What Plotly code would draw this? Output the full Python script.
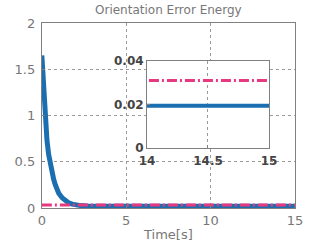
import plotly.graph_objects as go

# Data
t_blue = [0, 0.03, 0.06, 0.1, 0.15, 0.2, 0.3, 0.4, 0.5, 0.6, 0.7, 0.8, 1.0, 1.2, 1.4, 1.6, 1.8, 2.0, 2.3, 2.7, 3.0, 6.0, 10.0, 15.0]
v_blue = [1.65, 1.55, 1.40, 1.22, 1.06, 0.94, 0.74, 0.58, 0.47, 0.38, 0.31, 0.25, 0.16, 0.11, 0.075, 0.055, 0.042, 0.033, 0.026, 0.021, 0.0195, 0.0195, 0.0195, 0.0195]
t_pink = [0, 15]
v_pink = [0.031, 0.031]

BLUE = "#1b6fb0"
PINK = "#e6397f"
DASH = "10px,3px,2px,3px"

fig = go.Figure()
# main
fig.add_trace(go.Scatter(x=t_blue, y=v_blue, mode="lines", line=dict(color=BLUE, width=5),
                         xaxis="x", yaxis="y", showlegend=False))
fig.add_trace(go.Scatter(x=t_pink, y=v_pink, mode="lines", line=dict(color=PINK, width=3, dash=DASH),
                         xaxis="x", yaxis="y", showlegend=False))
# inset
fig.add_trace(go.Scatter(x=t_blue, y=v_blue, mode="lines", line=dict(color=BLUE, width=4),
                         xaxis="x2", yaxis="y2", showlegend=False))
fig.add_trace(go.Scatter(x=t_pink, y=v_pink, mode="lines", line=dict(color=PINK, width=3, dash=DASH),
                         xaxis="x2", yaxis="y2", showlegend=False))

axis_common = dict(showline=True, linecolor="#808080", linewidth=1, mirror=True, automargin=False,
                   zeroline=False, showgrid=True, gridcolor="#9a9a9a", griddash="dot", gridwidth=1,
                   ticks="inside", ticklen=3, tickcolor="#808080")

inset_font = dict(size=12, color="#444444", family="DejaVu Sans", weight="bold")

fig.update_layout(
    width=327, height=246,
    margin=dict(l=0, r=0, t=0, b=0, autoexpand=False),
    paper_bgcolor="white", plot_bgcolor="white",
    font=dict(family="DejaVu Sans"),
    xaxis=dict(domain=[0.128, 0.902], range=[0, 15], tickvals=[0, 5, 10, 15],
               tickfont=dict(size=13, color="#777777"), anchor="y", **axis_common),
    yaxis=dict(domain=[0.1545, 0.9065], range=[0, 2], tickvals=[0, 0.5, 1, 1.5, 2],
               ticktext=["0", "0.5", "1", "1.5", "2"], ticklabelstandoff=3,
               tickfont=dict(size=13, color="#777777"), anchor="x", **axis_common),
    xaxis2=dict(domain=[0.4495, 0.8226], range=[14, 15], tickvals=[14, 14.5, 15],
                ticktext=["14", "14.5", "15"], ticklabelstandoff=2,
                tickfont=inset_font, anchor="y2", **axis_common),
    yaxis2=dict(domain=[0.398, 0.752], range=[0, 0.04], tickvals=[0, 0.02, 0.04],
                ticktext=["0", "0.02", "0.04"],
                tickfont=inset_font, anchor="x2", **axis_common),
    shapes=[dict(type="rect", xref="x2 domain", yref="y2 domain", x0=0, x1=1, y0=0, y1=1,
                 fillcolor="white", line=dict(width=0), layer="below")],
    annotations=[
        dict(text="Orientation Error Energy", xref="paper", yref="paper", x=0.515, y=0.958,
             showarrow=False, font=dict(size=12, color="#777777"), xanchor="center", yanchor="middle"),
        dict(text="Time[s]", xref="paper", yref="paper", x=0.515, y=0.045,
             showarrow=False, font=dict(size=13, color="#777777"), xanchor="center", yanchor="middle"),
    ],
)

fig.write_html("out.html", config={"displayModeBar": False},
               post_script="document.body.style.margin='0';")
